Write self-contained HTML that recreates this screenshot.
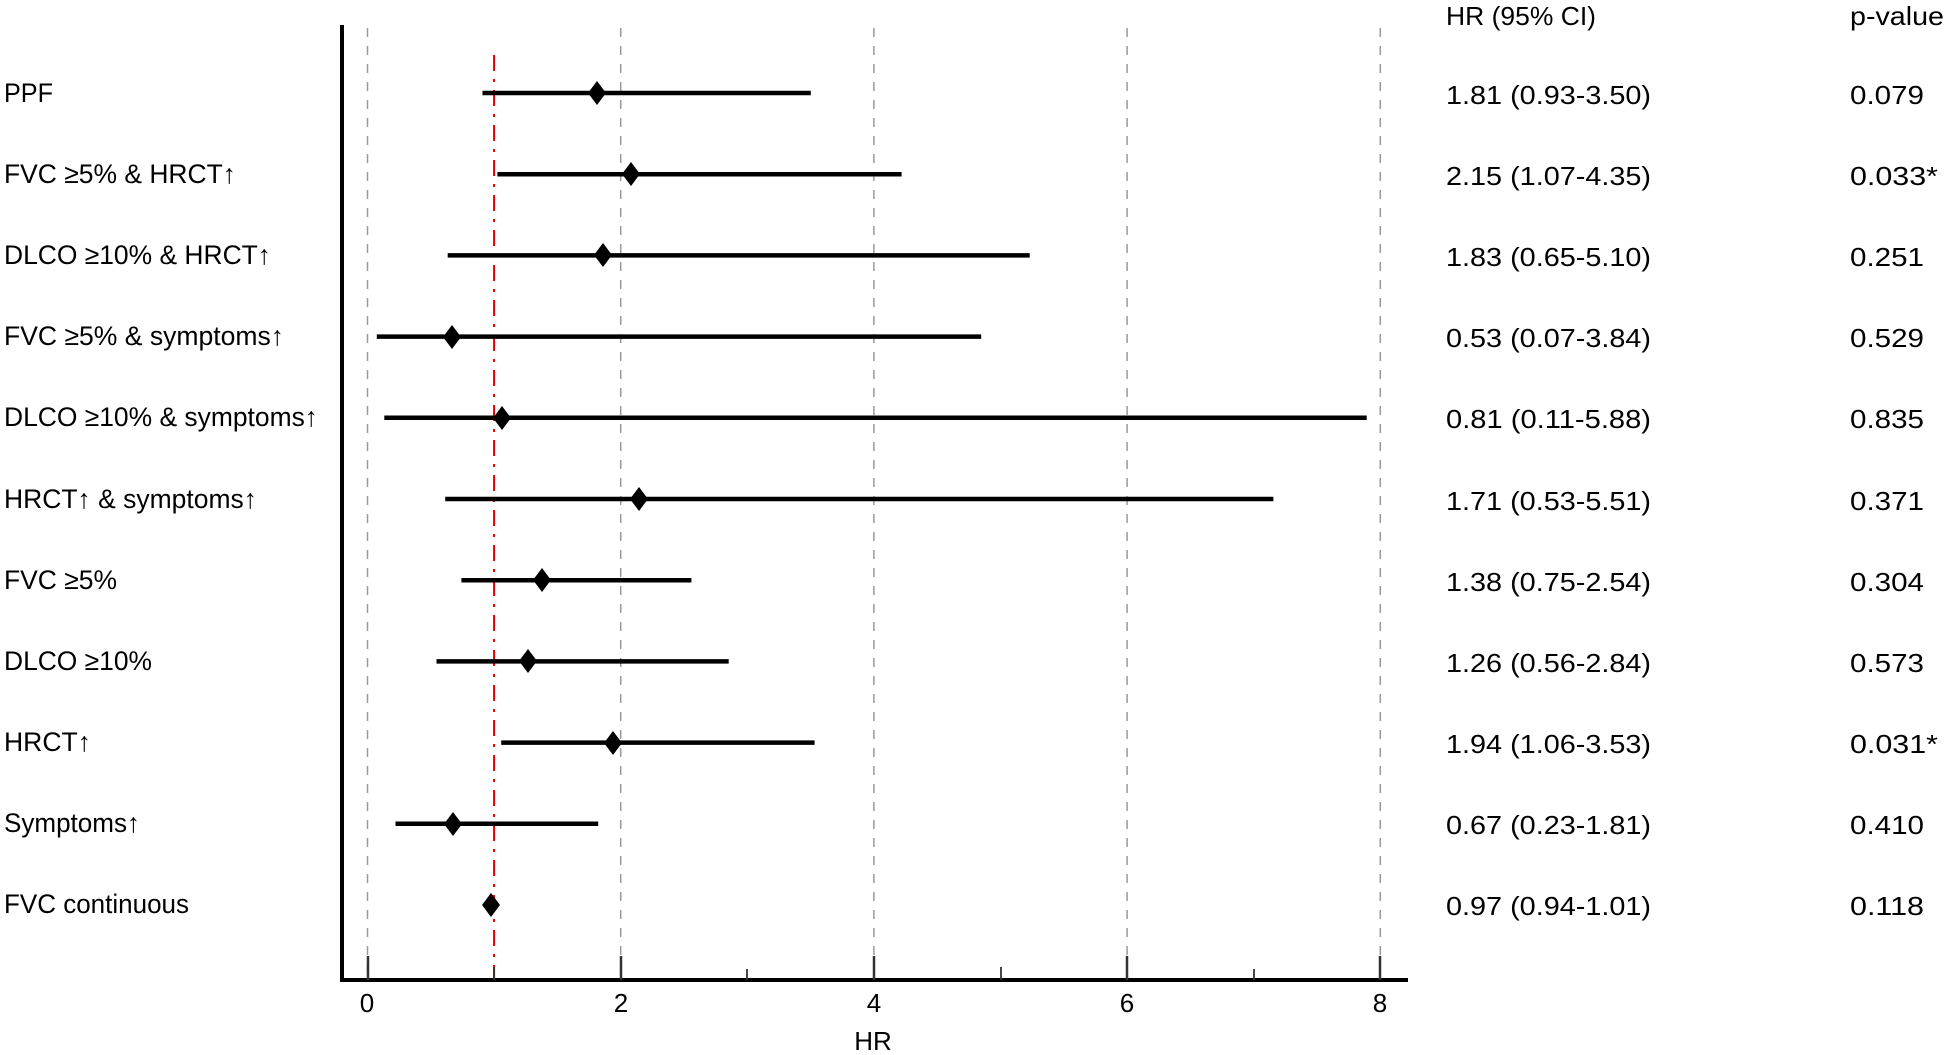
<!DOCTYPE html>
<html><head><meta charset="utf-8"><style>
html,body{margin:0;padding:0;background:#fff;}
svg{display:block;}
text{font-family:"Liberation Sans",sans-serif;fill:#000;}
</style></head><body>
<svg width="1950" height="1055" viewBox="0 0 1950 1055" xmlns="http://www.w3.org/2000/svg">
<g stroke="#999" stroke-width="1.5" stroke-dasharray="9,9">
<line x1="367.5" y1="28" x2="367.5" y2="978"/>
<line x1="620.7" y1="28" x2="620.7" y2="978"/>
<line x1="873.9" y1="28" x2="873.9" y2="978"/>
<line x1="1127.1" y1="28" x2="1127.1" y2="978"/>
<line x1="1380.3" y1="28" x2="1380.3" y2="978"/>
</g>
<line x1="494.1" y1="55" x2="494.1" y2="978" stroke="#e00000" stroke-width="2" stroke-dasharray="16,8,3,8"/>
<line x1="342" y1="25" x2="342" y2="982" stroke="#000" stroke-width="4"/>
<line x1="340" y1="980" x2="1408" y2="980" stroke="#000" stroke-width="4"/>
<g stroke="#333" stroke-width="2.5">
<line x1="368" y1="956" x2="368" y2="980"/><line x1="621" y1="956" x2="621" y2="980"/>
<line x1="874" y1="956" x2="874" y2="980"/><line x1="1127" y1="956" x2="1127" y2="980"/>
<line x1="1380" y1="956" x2="1380" y2="980"/>
</g>
<g stroke="#333" stroke-width="1.8">
<line x1="494" y1="967" x2="494" y2="980"/><line x1="747" y1="969" x2="747" y2="980"/>
<line x1="1001" y1="967" x2="1001" y2="980"/><line x1="1254" y1="969" x2="1254" y2="980"/>
</g>
<g font-size="26" text-anchor="middle">
<text x="367" y="1012">0</text><text x="621" y="1012">2</text><text x="874" y="1012">4</text><text x="1127" y="1012">6</text><text x="1380" y="1012">8</text>
<text x="873" y="1050">HR</text>
</g>
<g stroke="#000" stroke-width="4.5">
<line x1="482.5" y1="93" x2="810.8" y2="93"/>
<line x1="497.4" y1="174.2" x2="901.6" y2="174.2"/>
<line x1="447.7" y1="255.4" x2="1029.7" y2="255.4"/>
<line x1="376.8" y1="336.6" x2="981.2" y2="336.6"/>
<line x1="384.3" y1="417.8" x2="1366.7" y2="417.8"/>
<line x1="445.2" y1="499" x2="1273.4" y2="499"/>
<line x1="461.4" y1="580.2" x2="691.4" y2="580.2"/>
<line x1="436.5" y1="661.4" x2="728.7" y2="661.4"/>
<line x1="501.2" y1="742.6" x2="814.6" y2="742.6"/>
<line x1="395.5" y1="823.8" x2="598.2" y2="823.8"/>
<line x1="486.5" y1="905" x2="495.4" y2="905"/>
</g>
<g fill="#000">
<path d="M597 81 L606 93 L597 105 L588 93Z"/>
<path d="M631 162 L640 174 L631 186 L622 174Z"/>
<path d="M603 243 L612 255 L603 267 L594 255Z"/>
<path d="M452 325 L461 337 L452 349 L443 337Z"/>
<path d="M502 406 L511 418 L502 430 L493 418Z"/>
<path d="M639 487 L648 499 L639 511 L630 499Z"/>
<path d="M542 568 L551 580 L542 592 L533 580Z"/>
<path d="M528 649 L537 661 L528 673 L519 661Z"/>
<path d="M613 731 L622 743 L613 755 L604 743Z"/>
<path d="M453 812 L462 824 L453 836 L444 824Z"/>
<path d="M491 893 L500 905 L491 917 L482 905Z"/>
</g>
<g font-size="27">
<text x="4" y="102" textLength="49" lengthAdjust="spacingAndGlyphs">PPF</text>
<text x="4" y="183" textLength="232" lengthAdjust="spacingAndGlyphs">FVC ≥5% &amp; HRCT↑</text>
<text x="4" y="264" textLength="267" lengthAdjust="spacingAndGlyphs">DLCO ≥10% &amp; HRCT↑</text>
<text x="4" y="345" textLength="280" lengthAdjust="spacingAndGlyphs">FVC ≥5% &amp; symptoms↑</text>
<text x="4" y="426" textLength="314" lengthAdjust="spacingAndGlyphs">DLCO ≥10% &amp; symptoms↑</text>
<text x="4" y="508" textLength="253" lengthAdjust="spacingAndGlyphs">HRCT↑ &amp; symptoms↑</text>
<text x="4" y="589" textLength="113" lengthAdjust="spacingAndGlyphs">FVC ≥5%</text>
<text x="4" y="670" textLength="148" lengthAdjust="spacingAndGlyphs">DLCO ≥10%</text>
<text x="4" y="751" textLength="87" lengthAdjust="spacingAndGlyphs">HRCT↑</text>
<text x="4" y="832" textLength="136" lengthAdjust="spacingAndGlyphs">Symptoms↑</text>
<text x="4" y="913" textLength="185" lengthAdjust="spacingAndGlyphs">FVC continuous</text>
</g>
<g font-size="26" fill="#222">
<text x="1446" y="25" textLength="150" lengthAdjust="spacingAndGlyphs">HR (95% CI)</text>
<text x="1850" y="25" textLength="94" lengthAdjust="spacingAndGlyphs">p-value</text>
</g>
<g font-size="26">
<text x="1446" y="104" textLength="205" lengthAdjust="spacingAndGlyphs">1.81 (0.93-3.50)</text>
<text x="1446" y="185" textLength="205" lengthAdjust="spacingAndGlyphs">2.15 (1.07-4.35)</text>
<text x="1446" y="266" textLength="205" lengthAdjust="spacingAndGlyphs">1.83 (0.65-5.10)</text>
<text x="1446" y="347" textLength="205" lengthAdjust="spacingAndGlyphs">0.53 (0.07-3.84)</text>
<text x="1446" y="428" textLength="205" lengthAdjust="spacingAndGlyphs">0.81 (0.11-5.88)</text>
<text x="1446" y="510" textLength="205" lengthAdjust="spacingAndGlyphs">1.71 (0.53-5.51)</text>
<text x="1446" y="591" textLength="205" lengthAdjust="spacingAndGlyphs">1.38 (0.75-2.54)</text>
<text x="1446" y="672" textLength="205" lengthAdjust="spacingAndGlyphs">1.26 (0.56-2.84)</text>
<text x="1446" y="753" textLength="205" lengthAdjust="spacingAndGlyphs">1.94 (1.06-3.53)</text>
<text x="1446" y="834" textLength="205" lengthAdjust="spacingAndGlyphs">0.67 (0.23-1.81)</text>
<text x="1446" y="915" textLength="205" lengthAdjust="spacingAndGlyphs">0.97 (0.94-1.01)</text>
<text x="1850" y="104" textLength="74" lengthAdjust="spacingAndGlyphs">0.079</text>
<text x="1850" y="185" textLength="88" lengthAdjust="spacingAndGlyphs">0.033*</text>
<text x="1850" y="266" textLength="74" lengthAdjust="spacingAndGlyphs">0.251</text>
<text x="1850" y="347" textLength="74" lengthAdjust="spacingAndGlyphs">0.529</text>
<text x="1850" y="428" textLength="74" lengthAdjust="spacingAndGlyphs">0.835</text>
<text x="1850" y="510" textLength="74" lengthAdjust="spacingAndGlyphs">0.371</text>
<text x="1850" y="591" textLength="74" lengthAdjust="spacingAndGlyphs">0.304</text>
<text x="1850" y="672" textLength="74" lengthAdjust="spacingAndGlyphs">0.573</text>
<text x="1850" y="753" textLength="88" lengthAdjust="spacingAndGlyphs">0.031*</text>
<text x="1850" y="834" textLength="74" lengthAdjust="spacingAndGlyphs">0.410</text>
<text x="1850" y="915" textLength="74" lengthAdjust="spacingAndGlyphs">0.118</text>
</g>
</svg>
</body></html>
